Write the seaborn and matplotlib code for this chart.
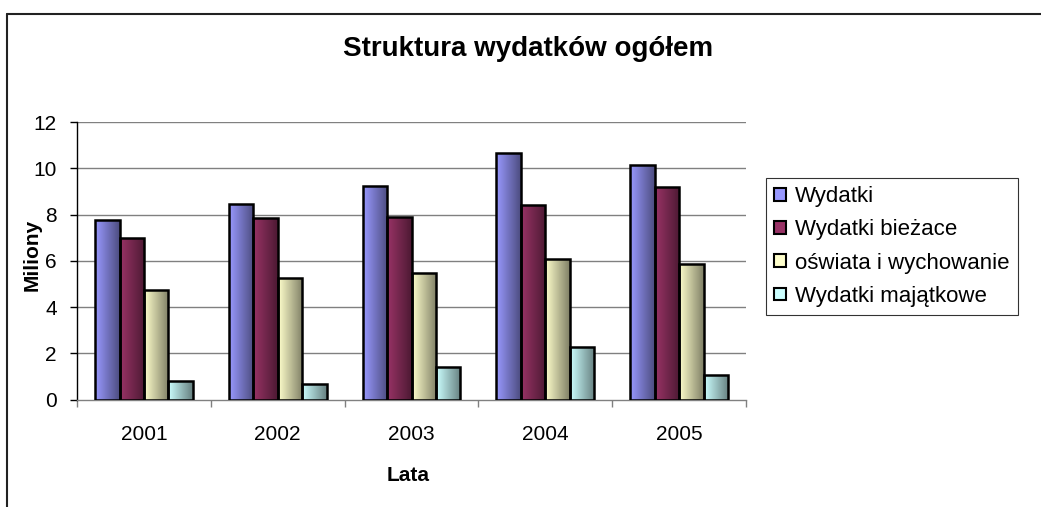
import numpy as np
import pandas as pd
import seaborn as sns
import matplotlib.pyplot as plt
from matplotlib.patches import Rectangle
from matplotlib.lines import Line2D
from matplotlib.colors import to_rgb

#%% Data
lata = ["2001", "2002", "2003", "2004", "2005"]
serie = ["Wydatki", "Wydatki bieżace", "oświata i wychowanie", "Wydatki majątkowe"]
wydatki = [7.75, 8.45, 9.25, 10.65, 10.15]
wydatki_biezace = [7.0, 7.85, 7.9, 8.43, 9.18]
oswiata = [4.72, 5.25, 5.48, 6.1, 5.87]
majatkowe = [0.8, 0.65, 1.4, 2.28, 1.05]
kolory = ["#9999FF", "#993366", "#FFFFCC", "#CCFFFF"]

df = pd.DataFrame({
    "Lata": lata * 4,
    "Seria": np.repeat(serie, len(lata)),
    "Miliony": wydatki + wydatki_biezace + oswiata + majatkowe,
})

#%% Plot
sns.set_theme(style="white")
plt.rcParams["font.family"] = ["Liberation Sans", "DejaVu Sans"]
plt.rcParams["text.color"] = "black"
plt.rcParams["axes.labelcolor"] = "black"
plt.rcParams["xtick.color"] = "black"
plt.rcParams["ytick.color"] = "black"

fig = plt.figure(figsize=(10.41, 5.07), dpi=100)
ax = fig.add_axes([0.074, 0.212, 0.6426, 0.5468])

sns.barplot(data=df, x="Lata", y="Miliony", hue="Seria", hue_order=serie,
            palette=kolory, width=0.73, gap=0, ax=ax, legend=False,
            edgecolor="black", linewidth=0, zorder=3)

# gradient fill (light left -> dark right), like the old Excel bars
for cont, kol in zip(ax.containers, kolory):
    c = np.array(to_rgb(kol))
    grad = np.linspace(0, 1, 64)[None, :, None]
    img = c * (1 - grad) + c * 0.5 * grad
    for bar in cont:
        x0, w, h = bar.get_x(), bar.get_width(), bar.get_height()
        im = ax.imshow(img, extent=(x0, x0 + w, 0, h), aspect="auto",
                       zorder=3.5, interpolation="bilinear")
        im.set_clip_path(bar)
        ax.add_patch(Rectangle((x0, 0), w, h, fill=False, edgecolor="black",
                               linewidth=1.8, zorder=4))

ax.set_xlim(-0.5, 4.5)
ax.set_ylim(0, 12)
ax.set_yticks(range(0, 13, 2))
for v in range(2, 13, 2):
    ax.axhline(v, color="#808080", linewidth=1, zorder=1)

ax.set_xticks(np.arange(-0.5, 5, 1))
ax.set_xticklabels([])
ax.set_xticks(range(5), minor=True)
ax.set_xticklabels(lata, minor=True)
ax.tick_params(axis="x", which="major", direction="out", length=5,
               width=1, color="#808080", bottom=True)
ax.tick_params(axis="x", which="minor", length=0, labelsize=15, pad=18)
ax.tick_params(axis="y", direction="out", length=5, width=1, color="black",
               labelsize=15, left=True, pad=9.5)

for s in ["top", "right"]:
    ax.spines[s].set_visible(False)
ax.spines["left"].set_color("black")
ax.spines["bottom"].set_color("#808080")
ax.spines["left"].set_linewidth(1)
ax.spines["bottom"].set_linewidth(1)

ax.set_xlabel("Lata", fontsize=15, fontweight="bold", va="center")
ax.set_ylabel("Miliony", fontsize=15, fontweight="bold", va="center")
ax.xaxis.set_label_coords(0.495, -0.273)
ax.yaxis.set_label_coords(-0.067, 0.52)

fig.text(0.507, 1 - 56 / 507, "Struktura wydatków ogółem", ha="center",
         va="baseline", fontsize=20, fontweight="bold")

# legend
uchwyty = [Rectangle((0, 0), 1, 1, facecolor=k, edgecolor="black", linewidth=1.5)
           for k in kolory]
leg = fig.legend(uchwyty, serie, loc="upper left", bbox_to_anchor=(0.736, 0.649),
                 fontsize=16, frameon=True, fancybox=False, borderaxespad=0,
                 handlelength=0.5, handleheight=0.5, handletextpad=0.42,
                 labelspacing=0.55, borderpad=0.37)
leg.get_frame().set_edgecolor("black")
leg.get_frame().set_linewidth(0.8)

# chart area frame (left and top edges only visible)
fig.add_artist(Line2D([0.0072, 0.0072], [0.0, 1 - 13.5 / 507], color="#222222",
                      linewidth=1.5, transform=fig.transFigure))
fig.add_artist(Line2D([0.0072, 1.0], [1 - 13.5 / 507, 1 - 13.5 / 507],
                      color="#222222", linewidth=1.5, transform=fig.transFigure))

fig.savefig("out.png", dpi=100)
